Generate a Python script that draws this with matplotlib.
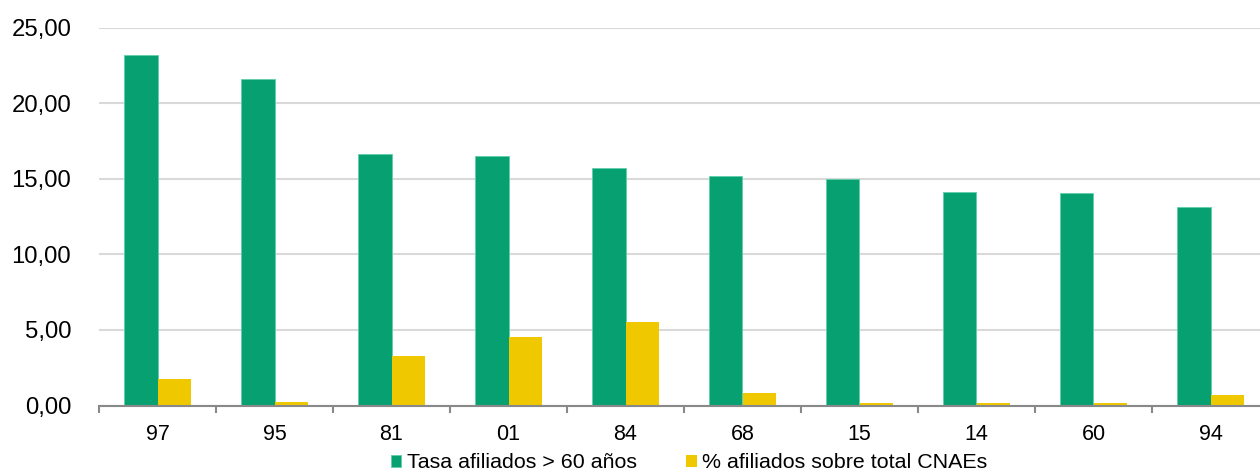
import numpy as np
import matplotlib
matplotlib.use("Agg")
import matplotlib.pyplot as plt
from matplotlib.ticker import FuncFormatter, FixedLocator

plt.rcParams['font.family'] = ['Liberation Sans', 'DejaVu Sans']

cnae = ["97", "95", "81", "01", "84", "68", "15", "14", "60", "94"]
tasa_60 = [23.20, 21.63, 16.66, 16.51, 15.74, 15.17, 14.97, 14.11, 14.04, 13.12]
pct_total = [1.75, 0.23, 3.26, 4.51, 5.53, 0.83, 0.17, 0.19, 0.14, 0.70]

verde = "#07a070"
amarillo = "#f0c800"

fig = plt.figure(figsize=(12.6, 4.74), dpi=100)
ax = fig.add_axes([99/1260, 68.5/474, 1170/1260, 377.8/474])

x = np.arange(len(cnae))
w = 0.287
ax.bar(x - w/2, tasa_60, w, color=verde, edgecolor="#5fd0a8", linewidth=0.6,
       label="Tasa afiliados > 60 años", zorder=3)
ax.bar(x + w/2, pct_total, w, color=amarillo, linewidth=0,
       label="% afiliados sobre total CNAEs", zorder=3)

ax.set_xlim(-0.5, len(cnae) - 0.5)
ax.set_ylim(0, 25)
ax.set_yticks(np.arange(0, 25.1, 5))
ax.yaxis.set_major_formatter(FuncFormatter(lambda v, p: f"{v:.2f}".replace(".", ",")))
ax.grid(axis="y", color="#d9d9d9", linewidth=1.5, zorder=0)
ax.set_axisbelow(True)

ax.set_xticks(x)
ax.set_xticklabels(cnae)
ax.xaxis.set_minor_locator(FixedLocator(np.arange(-0.5, len(cnae), 1)))
ax.tick_params(axis="x", which="major", length=0, pad=13, labelsize=15.5)
ax.tick_params(axis="x", which="minor", length=5, width=1.5, color="#898989", direction="out")
ax.tick_params(axis="y", length=0, pad=20, labelsize=17.2)

for s in ["top", "right", "left"]:
    ax.spines[s].set_visible(False)
ax.spines["bottom"].set_color("#898989")
ax.spines["bottom"].set_linewidth(1.5)
ax.spines["bottom"].set_zorder(4)

fig.legend(loc="center", bbox_to_anchor=(689/1260, 11/474), ncol=2, frameon=False,
           fontsize=15.4, handlelength=0.5, handleheight=0.5, handletextpad=0.25,
           columnspacing=2.3, borderpad=0)

fig.savefig("out.png", dpi=100)
